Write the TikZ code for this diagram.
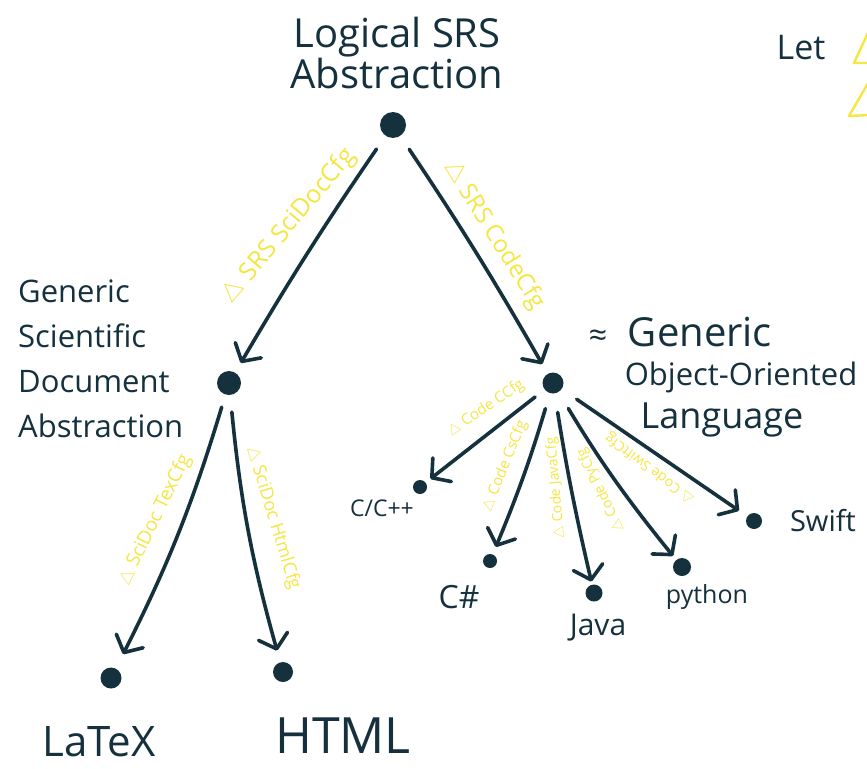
\documentclass[tikz,border=0pt]{standalone}
\usepackage{fontspec}
\setmainfont{Open Sans}
\usetikzlibrary{arrows.meta}
\definecolor{ink}{HTML}{15313D}
\definecolor{hl}{HTML}{F5E642}
\tikzset{
  dot/.style={circle,fill=ink,inner sep=0pt,minimum size=#1},
  txt/.style={text=ink,inner sep=0pt,align=#1},
  txt/.default=center,
  cfg/.style={text=hl,inner sep=0pt,font=\fontsize{#1}{#1}\selectfont},
  edge/.style={draw=ink,line width=3.6pt,line cap=round,line join=round,
    -{Straight Barb[length=13pt,width=30pt,line width=3.6pt,round]}},
}
\begin{document}
\begin{tikzpicture}[x=1pt,y=-1pt]
\useasboundingbox[fill=white] (0,0) rectangle (867,768);

% nodes of the tree
\node[dot=26pt] (top) at (393,125) {};
\node[dot=24pt] (sci) at (229,383) {};
\node[dot=21pt] (oo) at (553,383) {};
\node[dot=21pt] (latex) at (111,678) {};
\node[dot=20pt] (html) at (283,672) {};
\node[dot=14pt] (cpp) at (420,487) {};
\node[dot=14pt] (cs) at (490,561) {};
\node[dot=17pt] (java) at (594,593) {};
\node[dot=18pt] (py) at (682,567) {};
\node[dot=16pt] (swift) at (754,521) {};

% titles
\node[txt,font=\fontsize{40}{36}\selectfont] (ttop) at (397,53) {Logical SRS\\Abstraction};
\node[txt=left,anchor=north west,font=\fontsize{31}{45}\selectfont] (tsci) at (18,280) {Generic\\Scientific\\Document\\Abstraction};
\node[txt,font=\fontsize{32}{32}\selectfont] (approx) at (598,338) {≈};
\node[txt,font=\fontsize{40}{40}\selectfont] (tgen) at (700,332) {Generic};
\node[txt,font=\fontsize{31}{31}\selectfont] (tobj) at (741,377) {Object-Oriented};
\node[txt,font=\fontsize{36}{36}\selectfont] (tlang) at (722,420) {Language};
\node[txt,font=\fontsize{34}{34}\selectfont] (tlet) at (801,48) {Let};

% leaf labels
\node[txt,font=\fontsize{42}{42}\selectfont] (llatex) at (99,742) {LaTeX};
\node[txt,font=\fontsize{50}{50}\selectfont] (lhtml) at (343,736) {HTML};
\node[txt,font=\fontsize{23}{23}\selectfont] (lcpp) at (382,508) {C/C++};
\node[txt,font=\fontsize{32}{32}\selectfont] (lcs) at (459,597) {C\#};
\node[txt,font=\fontsize{30}{30}\selectfont] (ljava) at (598,628) {Java};
\node[txt,font=\fontsize{25}{25}\selectfont] (lpy) at (707,597) {python};
\node[txt,font=\fontsize{29}{29}\selectfont] (lswift) at (823,521) {Swift};

% connectors
\draw[edge,shorten <=16pt,shorten >=11pt] (top) to[bend right=2] (sci);
\draw[edge,shorten <=16pt,shorten >=11pt] (top) to[bend left=2] (oo);
\draw[edge,shorten <=13pt,shorten >=16pt] (sci) to[bend left=5] (latex);
\draw[edge,shorten <=17pt,shorten >=12pt] (sci) to[bend right=5] (html);
\draw[edge,shorten <=12pt,shorten >=6pt] (oo) to (cpp);
\draw[edge,shorten <=16pt,shorten >=8pt] (oo) to[bend left=3] (cs);
\draw[edge,shorten <=19pt,shorten >=3pt] (oo) to[bend right=2] (java);
\draw[edge,shorten <=19pt,shorten >=5pt] (oo) to[bend right=4] (py);
\draw[edge,shorten <=18pt,shorten >=10pt] (oo) to (swift);

% configuration labels along the connectors
\node[cfg=25,rotate=50] (c1) at (289,226) {$\triangle$ SRS SciDocCfg};
\node[cfg=24,rotate=-58] (c2) at (494,235) {$\triangle$ SRS CodeCfg};
\node[cfg=19,rotate=64] (c3) at (155,520) {$\triangle$ SciDoc TexCfg};
\node[cfg=18,rotate=-73] (c4) at (273,518) {$\triangle$ SciDoc HtmlCfg};
\node[cfg=15,rotate=34] (c5) at (486,408) {$\triangle$ Code CCfg};
\node[cfg=15,rotate=68] (c6) at (505,466) {$\triangle$ Code CsCfg};
\node[cfg=14,rotate=95] (c7) at (556,488) {$\triangle$ Code JavaCfg};
\node[cfg=14,rotate=116] (c8) at (601,490) {$\triangle$ Code PyCfg};
\node[cfg=14,rotate=143] (c9) at (650,468) {$\triangle$ Code SwiftCfg};

% yellow marks running off the right edge
\begin{scope}
\clip (0,0) rectangle (867,768);
\draw[hl,line width=2.4pt,line join=round,line cap=round]
  (854,63) -- (873,22) -- (892,63) -- cycle
  (849,116) -- (871,78) -- (892,114) -- cycle;
\end{scope}
\end{tikzpicture}
\end{document}
